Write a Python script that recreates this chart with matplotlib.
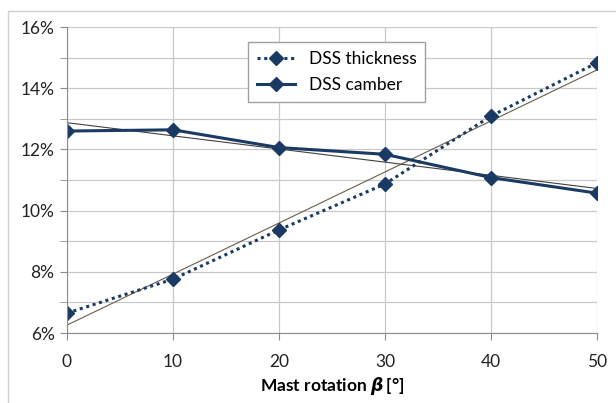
import numpy as np
import matplotlib.pyplot as plt
from matplotlib.patches import Rectangle
from matplotlib.ticker import MultipleLocator, PercentFormatter

# values
rotation = [0, 10, 20, 30, 40, 50]
thickness = [6.65, 7.76, 9.37, 10.87, 13.09, 14.83]
camber = [12.60, 12.64, 12.06, 11.84, 11.08, 10.57]

plt.rcParams['font.family'] = ['Lato', 'DejaVu Sans']
plt.rcParams['mathtext.fontset'] = 'custom'
plt.rcParams['mathtext.it'] = 'DejaVu Sans:italic:bold'
plt.rcParams['mathtext.rm'] = 'Lato:bold'

navy = '#1b3a63'

fig = plt.figure(figsize=(6.16, 4.03), dpi=100)
# outer chart frame
fig.patches.append(Rectangle((8 / 616, -0.01), 1.0, 1 - 11 / 403 + 0.01,
                             transform=fig.transFigure, fill=False,
                             edgecolor='#d0d0d0', linewidth=1.0))

ax = fig.add_axes([67 / 616, 70 / 403, 530 / 616, 306 / 403])

ax.plot(rotation, thickness, linestyle=(0, (1, 1.2)), linewidth=2.2,
        color=navy, marker='D', markersize=7, label='DSS thickness')
ax.plot(rotation, camber, linestyle='-', linewidth=2.2, color=navy,
        marker='D', markersize=7, label='DSS camber')

# linear trendlines
xs = np.array([rotation[0], rotation[-1]])
for series, col in [(thickness, '#6b5c48'), (camber, '#404040')]:
    k, b = np.polyfit(rotation, series, 1)
    ax.plot(xs, k * xs + b, color=col, linewidth=0.8, zorder=1)

ax.set_xlim(0, 50)
ax.set_ylim(6, 16)
ax.xaxis.set_major_locator(MultipleLocator(10))
ax.yaxis.set_major_locator(MultipleLocator(2))
ax.yaxis.set_minor_locator(MultipleLocator(1))
ax.yaxis.set_major_formatter(PercentFormatter(decimals=0))

ax.grid(True, which='both', color='#c8c8c8', linewidth=0.9)
ax.set_axisbelow(True)
for side in ['top', 'right']:
    ax.spines[side].set_visible(False)
for side in ['left', 'bottom']:
    ax.spines[side].set_color('#8c8c8c')

ax.tick_params(axis='both', which='both', length=5, color='#8c8c8c',
               labelsize=12.5, labelcolor='#222222')
ax.tick_params(axis='x', pad=10)
ax.tick_params(axis='y', pad=4)

ax.set_xlabel(r'Mast rotation $\beta\,$[°]', fontsize=12.5,
              fontweight='bold', labelpad=4)

leg = ax.legend(loc='upper left', bbox_to_anchor=(248 / 616, 1 - 42 / 403),
                bbox_transform=fig.transFigure, borderaxespad=0,
                fontsize=12.5, fancybox=False, framealpha=1,
                edgecolor='#a0a0a0', handlelength=2.2, labelspacing=0.6,
                borderpad=0.5)
leg.get_frame().set_linewidth(1.0)

fig.savefig('out.png', dpi=100)
